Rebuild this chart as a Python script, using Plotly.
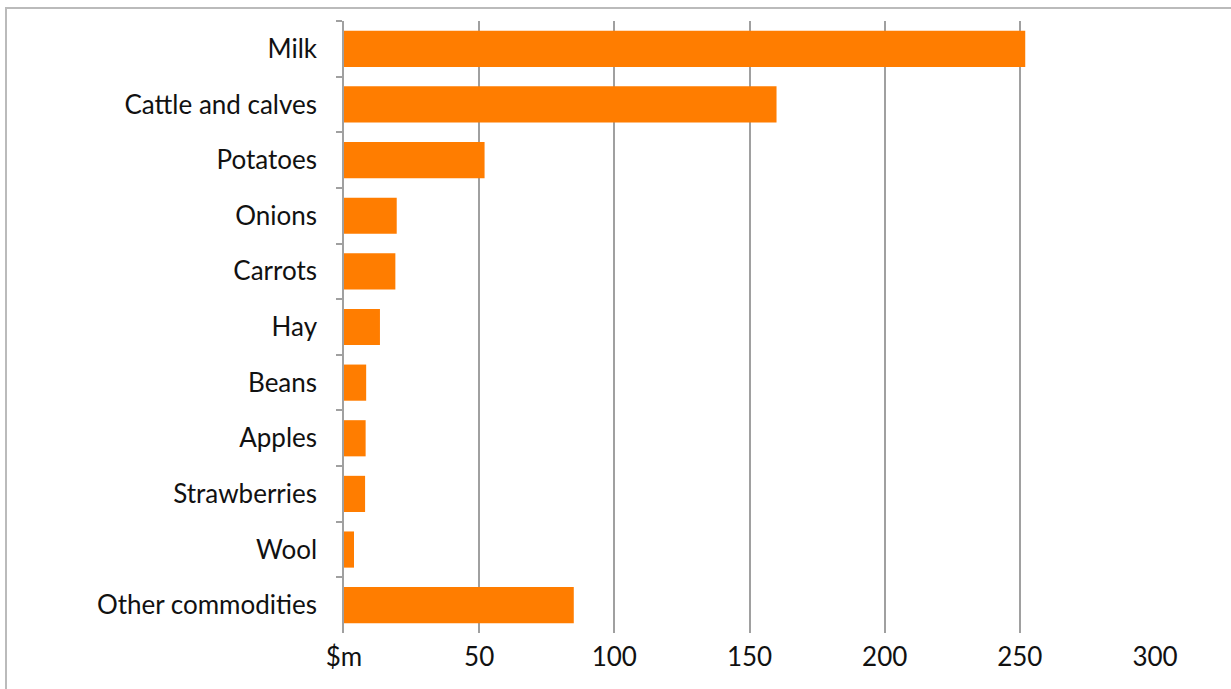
import plotly.graph_objects as go

categories = ["Milk", "Cattle and calves", "Potatoes", "Onions", "Carrots", "Hay",
              "Beans", "Apples", "Strawberries", "Wool", "Other commodities"]
values = [252, 160, 52, 19.5, 19, 13.3, 8.2, 8, 7.8, 3.7, 85]
tick_vals = [0, 50, 100, 150, 200, 250, 300]
tick_text = ["$m", "50", "100", "150", "200", "250", "300"]

W, H = 1231, 689
L, R, T, B = 344, 1231 - 1155, 21, 689 - 633
pw, ph = W - L - R, H - T - B

fig = go.Figure(go.Bar(
    x=values, y=categories, orientation="h",
    marker=dict(color="#FF7D00", line=dict(width=0)),
    width=0.65,
))

fig.update_layout(
    width=W, height=H,
    margin=dict(l=L, r=R, t=T, b=B, pad=0),
    paper_bgcolor="white", plot_bgcolor="white",
    showlegend=False,
    font=dict(family="Lato, Open Sans, sans-serif", size=26, color="#111111"),
    xaxis=dict(range=[0, 300], tickvals=tick_vals, ticktext=tick_text,
               showgrid=True, gridcolor="#a0a0a0", gridwidth=1.5,
               zeroline=False, showline=False, ticks="", ticklabelstandoff=6,
               tickfont=dict(size=26)),
    yaxis=dict(autorange="reversed", showline=True, linecolor="#a0a0a0", linewidth=1.5,
               ticks="outside", tickson="boundaries", ticklen=6, tickcolor="#a0a0a0",
               tickwidth=1.5, ticklabelstandoff=20, showgrid=False,
               tickfont=dict(size=26)),
    shapes=[dict(type="rect", xref="paper", yref="paper",
                 x0=(6 - L) / pw, x1=(1240 - L) / pw,
                 y0=(H - B - 700) / ph, y1=(H - B - 8) / ph,
                 line=dict(color="#bbbbbb", width=2), layer="below")],
)

fig.write_html("out.html")
